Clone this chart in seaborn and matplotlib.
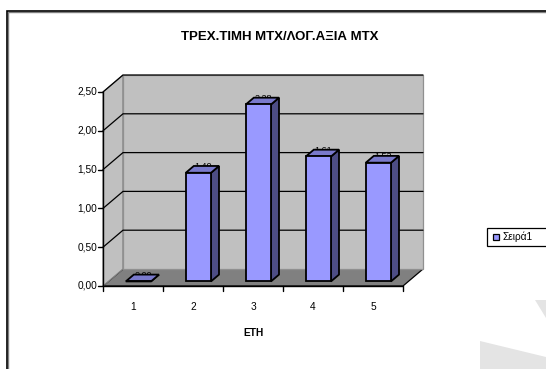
import numpy as np
import matplotlib
matplotlib.use("Agg")
import matplotlib.pyplot as plt
import seaborn as sns
from matplotlib.patches import Polygon, Rectangle
from matplotlib.transforms import Affine2D, IdentityTransform

# ---- data ----
years = ["1", "2", "3", "4", "5"]
ratio = [0.00, 1.40, 2.28, 1.61, 1.53]
value_labels = ["0,00", "1,40", "2,28", "1,61", "1,53"]
y_ticks = [0.0, 0.5, 1.0, 1.5, 2.0, 2.5]
y_tick_labels = ["0,00", "0,50", "1,00", "1,50", "2,00", "2,50"]
series_name = "Σειρά1"
title = "ΤΡΕΧ.ΤΙΜΗ ΜΤΧ/ΛΟΓ.ΑΞΙΑ ΜΤΧ"
x_title = "ΕΤΗ"

sns.set_theme(style="white")
plt.rcParams["font.family"] = ["Liberation Sans", "DejaVu Sans"]

W, H = 546, 369
fig = plt.figure(figsize=(W / 100, H / 100), dpi=100)
ax = fig.add_axes([103 / W, 83 / H, 300 / W, 194 / H])
ax.patch.set_visible(False)

# pseudo-3D depth (display pixels)
DEPTH = np.array([20.0, 17.0])
BAR_FRONT = 0.27      # fraction of depth where bar fronts sit
BAR_DEPTH = 0.40      # fraction of depth taken by a bar
EDGE = 1.3

df = {"year": years, "ratio": ratio}
sns.barplot(x="year", y="ratio", data=df, width=0.42, color="#9999FF",
            saturation=1, edgecolor="black", linewidth=EDGE, ax=ax, zorder=5)
ax.set_xlim(-0.5, 4.5)
ax.set_ylim(0, 2.5)
for s in ax.spines.values():
    s.set_visible(False)
ax.set_xlabel("")
ax.set_ylabel("")
ax.tick_params(left=False, bottom=False, labelleft=False, labelbottom=False)

ID = IdentityTransform()


def disp(x, y, d):
    return ax.transData.transform((x, y)) + d * DEPTH


def poly(pts, **kw):
    p = Polygon(np.array(pts), closed=True, transform=ID, clip_on=False, **kw)
    ax.add_artist(p)
    return p


def line(xs, ys, **kw):
    ln = plt.Line2D(xs, ys, transform=ID, clip_on=False, **kw)
    ax.add_artist(ln)
    return ln


def label(px, py, s, **kw):
    return ax.text(px, py, s, transform=ID, clip_on=False, color="black", **kw)


x0, x1 = -0.5, 4.5
ymax = y_ticks[-1]

# floor, left wall, back wall
poly([disp(x0, 0, 0), disp(x1, 0, 0), disp(x1, 0, 1), disp(x0, 0, 1)],
     facecolor="#808080", edgecolor="black", linewidth=0.9, zorder=1)
poly([disp(x0, 0, 0), disp(x0, 0, 1), disp(x0, ymax, 1), disp(x0, ymax, 0)],
     facecolor="#C0C0C0", edgecolor="#808080", linewidth=0.9, zorder=1)
poly([disp(x0, 0, 1), disp(x1, 0, 1), disp(x1, ymax, 1), disp(x0, ymax, 1)],
     facecolor="#C0C0C0", edgecolor="#909090", linewidth=0.9, zorder=1)

# gridlines: diagonal on left wall, horizontal on back wall
for yv in y_ticks[1:]:
    a, b, c = disp(x0, yv, 0), disp(x0, yv, 1), disp(x1, yv, 1)
    line([a[0], b[0], c[0]], [a[1], b[1], c[1]], color="black",
         linewidth=0.9, zorder=2)

# bars: shift fronts into depth, add top and side faces
shift = Affine2D().translate(*(BAR_FRONT * DEPTH))
for i, patch in enumerate(ax.patches):
    if not hasattr(patch, "get_x"):
        continue
    patch.set_transform(ax.transData + shift)
    patch.set_clip_on(False)
    patch.set_zorder(5)
    xl = patch.get_x()
    xr = xl + patch.get_width()
    yt = patch.get_height()
    f0, f1 = BAR_FRONT, BAR_FRONT + BAR_DEPTH
    poly([disp(xr, 0, f0), disp(xr, 0, f1), disp(xr, yt, f1), disp(xr, yt, f0)],
         facecolor="#4D4D85", edgecolor="black", linewidth=EDGE, zorder=4)
    # value label sits on the bar top, mostly hidden by the top face
    cx = (xl + xr) / 2
    tp = disp(cx, yt, f0 + BAR_DEPTH * 0.6)
    label(tp[0], tp[1] + 2, value_labels[i], fontsize=6.5, ha="center",
          va="center", zorder=3)
    poly([disp(xl, yt, f0), disp(xr, yt, f0), disp(xr, yt, f1), disp(xl, yt, f1)],
         facecolor="#7A7ACC", edgecolor="black", linewidth=EDGE, zorder=4.5)

# front axes
a, b = disp(x0, 0, 0), disp(x0, ymax, 0)
line([a[0], b[0]], [a[1], b[1]], color="black", linewidth=1.0, zorder=6)
a, b = disp(x0, 0, 0), disp(x1, 0, 0)
line([a[0], b[0]], [a[1], b[1]], color="black", linewidth=1.0, zorder=6)
for yv, lab in zip(y_ticks, y_tick_labels):
    p = disp(x0, yv, 0)
    line([p[0] - 5, p[0]], [p[1], p[1]], color="black", linewidth=1.0, zorder=6)
    label(p[0] - 6, p[1], lab, fontsize=7.3, ha="right", va="center")
for k in range(len(years) + 1):
    p = disp(k - 0.5, 0, 0)
    line([p[0], p[0]], [p[1], p[1] - 5], color="black", linewidth=1.0, zorder=6)
for k, lab in enumerate(years):
    p = disp(k, 0, 0)
    label(p[0], p[1] - 21, lab, fontsize=7.3, ha="center", va="center")

# titles
fig.text(280 / W, 1 - 37 / H, title, fontsize=9.5, fontweight="bold",
         ha="center", va="center", color="black")
fig.text(253 / W, 1 - 333 / H, x_title, fontsize=7.3, fontweight="bold",
         ha="center", va="center", color="black")

# legend
fig.add_artist(Rectangle((487, H - 246), 70, 18, transform=ID,
                         facecolor="white", edgecolor="black", linewidth=0.9,
                         clip_on=False))
fig.add_artist(Rectangle((493, H - 240), 6, 6, transform=ID,
                         facecolor="#9999FF", edgecolor="black", linewidth=0.9))
fig.text(503 / W, (H - 237) / H, series_name, fontsize=7.3, ha="left",
         va="center", color="black")

# faint page watermark in the lower right corner
for pts in ([(535, H - 300), (546, H - 300), (546, H - 318)],
            [(480, H - 341), (546, H - 357), (546, H - 369), (480, H - 369)]):
    fig.add_artist(Polygon(np.array(pts), closed=True, transform=ID,
                           facecolor="#E4E4E4", edgecolor="none", zorder=0.5))

# chart frame
fig.add_artist(Rectangle((8, -20), 600, H - 11 + 20 - 1, transform=ID,
                         facecolor="none", edgecolor="#808080", linewidth=1.0))
fig.add_artist(Rectangle((7, -20), 600, H - 11 + 20, transform=ID,
                         facecolor="none", edgecolor="black", linewidth=1.2))

fig.savefig("out.png", dpi=100, facecolor="white")
